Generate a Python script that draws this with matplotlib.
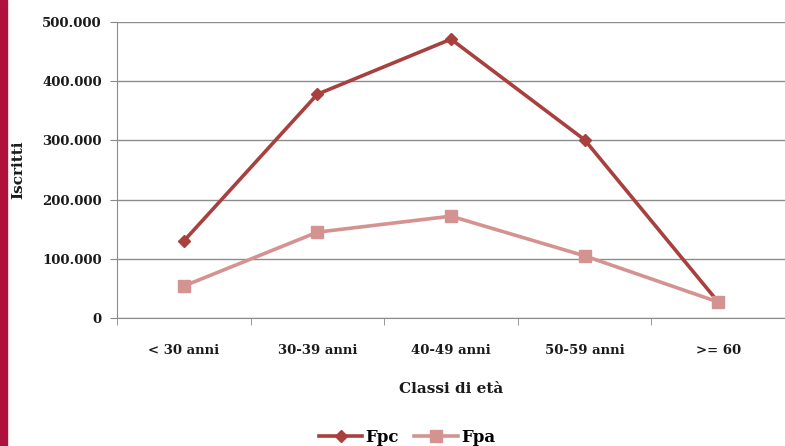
import matplotlib
matplotlib.use("Agg")
import matplotlib.pyplot as plt
from matplotlib.ticker import FuncFormatter, FixedLocator
from matplotlib.patches import Rectangle

categories = ["< 30 anni", "30-39 anni", "40-49 anni", "50-59 anni", ">= 60"]
fpc = [130000, 378000, 471000, 301000, 27000]
fpa = [54000, 145000, 172000, 105000, 27000]
yticks = [0, 100000, 200000, 300000, 400000, 500000]

plt.rcParams['font.family'] = ['DejaVu Serif']

fig = plt.figure(figsize=(7.85, 4.46), dpi=100)
fig.patches.append(Rectangle((0, 0), 7 / 785, 1, transform=fig.transFigure,
                             color="#B0103C", zorder=0))
ax = fig.add_axes([117 / 785, 1 - 318 / 446, (785 - 117) / 785, (318 - 22) / 446])

x = list(range(len(categories)))
ax.plot(x, fpc, color="#A8403D", lw=2.6, marker="D", ms=6, label="Fpc", zorder=3)
ax.plot(x, fpa, color="#D49391", lw=2.6, marker="s", ms=9, label="Fpa", zorder=3)

ax.set_xlim(-0.5, len(categories) - 0.5)
ax.set_ylim(0, 500000)
ax.set_yticks(yticks)
ax.yaxis.set_major_formatter(FuncFormatter(lambda v, p: "0" if v == 0 else f"{int(v):,}".replace(",", ".")))
ax.set_xticks(x)
ax.set_xticklabels(categories)
ax.xaxis.set_minor_locator(FixedLocator([i - 0.5 for i in range(len(categories) + 1)]))
ax.tick_params(axis="x", which="major", length=0, pad=19)
ax.tick_params(axis="x", which="minor", length=5, color="#888888")
ax.tick_params(axis="y", length=5, color="#888888", pad=6)
for lab in ax.get_xticklabels() + ax.get_yticklabels():
    lab.set_fontweight("bold")
    lab.set_fontsize(9.5)
    lab.set_color("#1a1a1a")

ax.grid(axis="y", color="#8c8c8c", lw=1)
ax.set_axisbelow(True)
for s in ["top", "right"]:
    ax.spines[s].set_visible(False)
ax.spines["left"].set_color("#8c8c8c")
ax.spines["bottom"].set_color("#8c8c8c")

ax.set_xlabel("Classi di età", fontsize=11, fontweight="bold", labelpad=18, color="#1a1a1a")
fig.text(18 / 785, 1 - 170 / 446, "Iscritti", rotation=90, fontsize=11, fontweight="bold",
         ha="center", va="center", color="#1a1a1a")

fig.legend(loc="center", bbox_to_anchor=(407 / 785, 1 - 437 / 446), ncol=2, frameon=False,
           prop={"weight": "bold", "size": 12}, handlelength=2.6, columnspacing=0.9,
           handletextpad=0.2)

fig.savefig("out.png", dpi=100)
